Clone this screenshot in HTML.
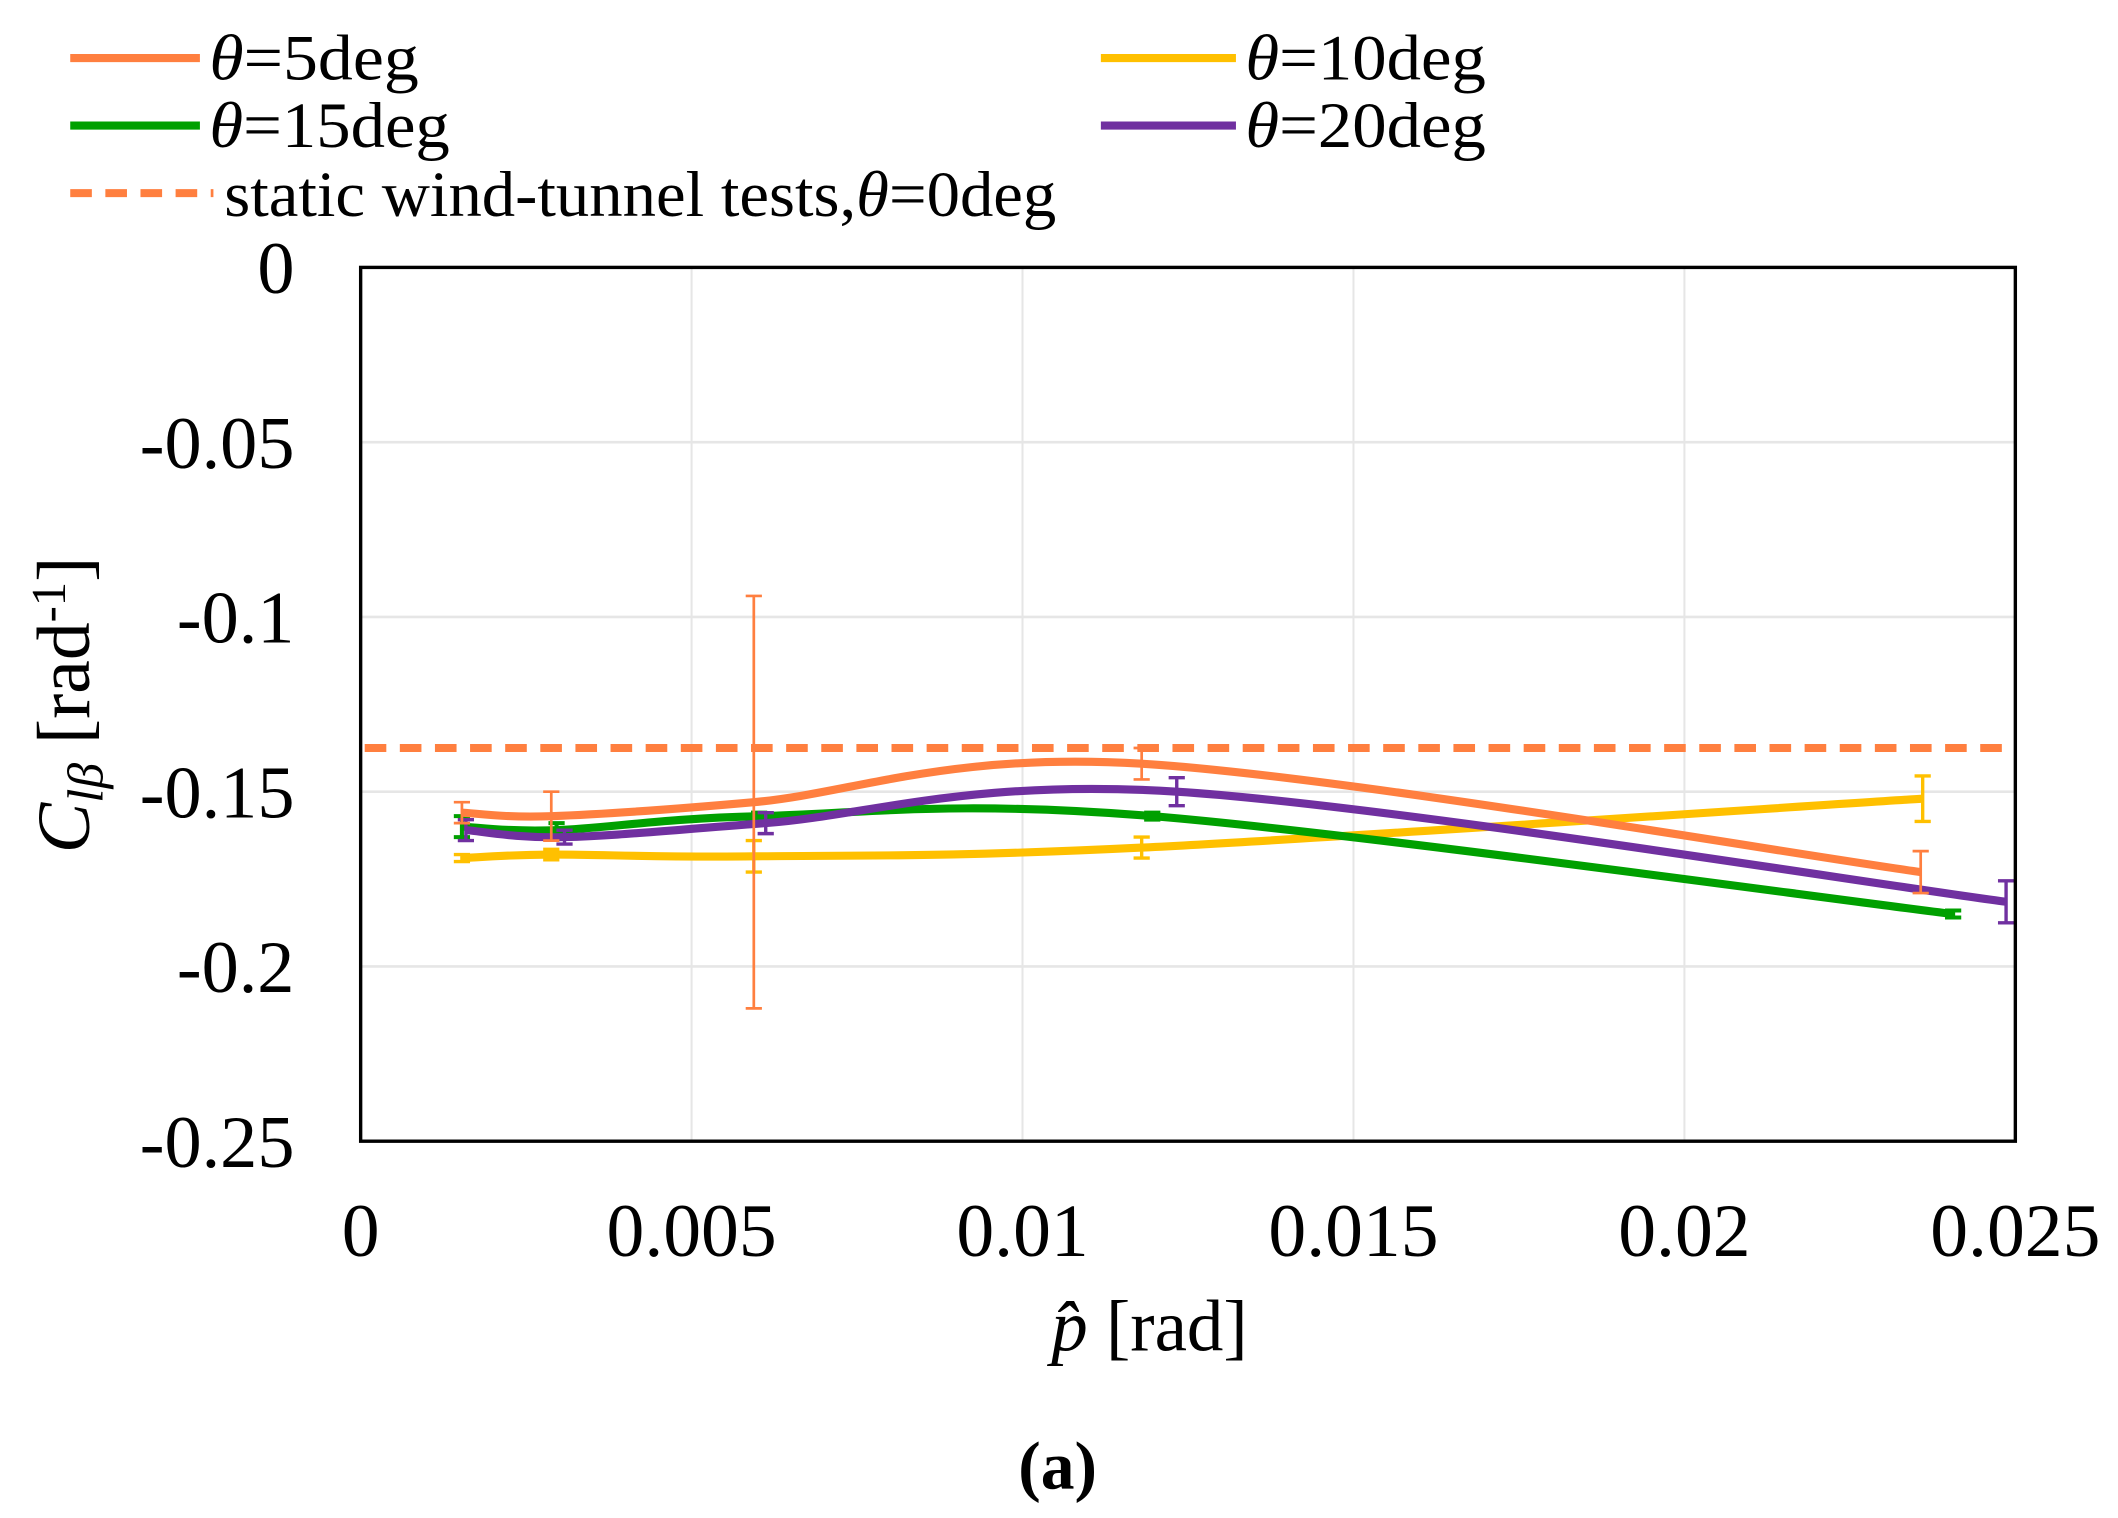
<!DOCTYPE html>
<html><head><meta charset="utf-8"><style>
html,body{margin:0;padding:0;background:#fff;}
svg{display:block;font-family:"Liberation Serif",serif;}
</style></head><body>
<svg id="chart" width="2118" height="1518" viewBox="0 0 1568 1124" preserveAspectRatio="none" xmlns="http://www.w3.org/2000/svg">
<g id="legend">
 <g><line x1="52" y1="43" x2="148" y2="43" stroke="#FF7F3F" stroke-width="6"/><text x="155" y="59" font-size="48" textLength="155" lengthAdjust="spacingAndGlyphs"><tspan font-style="italic">θ</tspan>=5deg</text></g>
 <g><line x1="815" y1="43" x2="915" y2="43" stroke="#FFC000" stroke-width="6"/><text x="922" y="59" font-size="48" textLength="178" lengthAdjust="spacingAndGlyphs"><tspan font-style="italic">θ</tspan>=10deg</text></g>
 <g><line x1="52" y1="93" x2="148" y2="93" stroke="#00A000" stroke-width="6"/><text x="155" y="109" font-size="48" textLength="178" lengthAdjust="spacingAndGlyphs"><tspan font-style="italic">θ</tspan>=15deg</text></g>
 <g><line x1="815" y1="93" x2="915" y2="93" stroke="#7030A0" stroke-width="6"/><text x="922" y="109" font-size="48" textLength="178" lengthAdjust="spacingAndGlyphs"><tspan font-style="italic">θ</tspan>=20deg</text></g>
 <g><line x1="52" y1="143" x2="158" y2="143" stroke="#FF7F3F" stroke-width="6" stroke-dasharray="16,10"/><text x="166" y="160" font-size="48" textLength="616" lengthAdjust="spacingAndGlyphs">static wind-tunnel tests,<tspan font-style="italic">θ</tspan>=0deg</text></g>
</g>
<g id="grid"></g>
<g id="series"></g>
<rect x="267" y="198" width="1225" height="647" fill="none" stroke="#000" stroke-width="2.5"/>
<g id="ticks"></g>
<text x="851" y="1000" font-size="54" text-anchor="middle"><tspan font-style="italic">p̂</tspan> [rad]</text>
<text transform="translate(66,522) rotate(-90)" font-size="56" text-anchor="middle"><tspan font-style="italic">C</tspan><tspan font-style="italic" font-size="38" dy="10">lβ</tspan><tspan dy="-10"> [rad</tspan><tspan font-size="36" dy="-18">-1</tspan><tspan dy="18">]</tspan></text>
<text x="783" y="1102" font-size="50" font-weight="bold" text-anchor="middle">(a)</text>
</svg>
<script>
const xTicks=[0,0.005,0.01,0.015,0.02,0.025];
const xTickLabels=["0","0.005","0.01","0.015","0.02","0.025"];
const yTicks=[0,-0.05,-0.1,-0.15,-0.2,-0.25];
const yTickLabels=["0","-0.05","-0.1","-0.15","-0.2","-0.25"];
const staticValue=-0.1375;
const x5=[0.00153,0.00288,0.00594,0.0118,0.02357];
const y5=[-0.156,-0.157,-0.153,-0.142,-0.173];
const e5=[0.003,0.007,0.059,0.0045,0.006];
const x10=[0.00153,0.00288,0.00594,0.0118,0.0236];
const y10=[-0.169,-0.168,-0.1685,-0.166,-0.152];
const e10=[0.001,0.0015,0.0045,0.003,0.0065];
const x15=[0.00153,0.00296,0.00602,0.01196,0.02406];
const y15=[-0.160,-0.161,-0.157,-0.157,-0.185];
const e15=[0.003,0.002,0.001,0.001,0.001];
const x20=[0.00159,0.00308,0.00612,0.01233,0.02486];
const y20=[-0.161,-0.163,-0.159,-0.150,-0.1815];
const e20=[0.003,0.002,0.003,0.004,0.006];
const NS="http://www.w3.org/2000/svg";
const X=v=>267+v/0.025*1225;
const Y=v=>198-v/0.25*647;
function mk(t,a,p){const e=document.createElementNS(NS,t);for(const k in a)e.setAttribute(k,a[k]);p.appendChild(e);return e;}
const grid=document.getElementById('grid'),ticks=document.getElementById('ticks'),series=document.getElementById('series');
xTicks.forEach((v,i)=>{
 if(i>0&&i<xTicks.length-1){const l=mk('line',{x1:X(v),x2:X(v),y1:198,y2:845,stroke:'#e6e6e6','stroke-width':1.5},grid);
 
 }
 const t=mk('text',{x:X(v),y:930,'font-size':56,'text-anchor':'middle'},ticks);t.textContent=xTickLabels[i];
 
 
});
yTicks.forEach((v,i)=>{
 if(i>0&&i<yTicks.length-1){const l=mk('line',{x1:267,x2:1492,y1:Y(v),y2:Y(v),stroke:'#e6e6e6','stroke-width':2},grid);
 
 }
 const t=mk('text',{x:218,y:Y(v)+19,'font-size':55,'text-anchor':'end'},ticks);t.textContent=yTickLabels[i];
 
 
});
const dl=mk('line',{x1:270,x2:1488,y1:Y(staticValue),y2:Y(staticValue),stroke:'#FF7F3F','stroke-width':6,'stroke-dasharray':'16,10'},series);


function spline(xs,ys){
 const p=xs.map((x,i)=>[X(x),Y(ys[i])]);let d='M'+p[0][0]+','+p[0][1];
 for(let i=0;i<p.length-1;i++){const p0=p[Math.max(0,i-1)],p1=p[i],p2=p[i+1],p3=p[Math.min(p.length-1,i+2)];
  const c1=[p1[0]+(p2[0]-p0[0])/6,p1[1]+(p2[1]-p0[1])/6],c2=[p2[0]-(p3[0]-p1[0])/6,p2[1]-(p3[1]-p1[1])/6];
  d+=' C'+c1+' '+c2+' '+p2;}
 return d;}
function draw(xs,ys,es,col,name,ew){
 const g=mk('g',{},series);
 
 
 const path=mk('path',{d:spline(xs,ys),fill:'none',stroke:col,'stroke-width':6},g);
 
 
 xs.forEach((x,i)=>{
  const cx=X(x),t=Y(ys[i]+es[i]),b=Y(ys[i]-es[i]);
  const eb=mk('path',{d:`M${cx},${t}V${b}M${cx-6},${t}H${cx+6}M${cx-6},${b}H${cx+6}`,stroke:col,'stroke-width':ew,fill:'none'},g);
  
  
 });
}
draw(x10,y10,e10,'#FFC000','series-10deg',2.5);
draw(x15,y15,e15,'#00A000','series-15deg',3);
draw(x20,y20,e20,'#7030A0','series-20deg',2.5);
draw(x5,y5,e5,'#FF7F3F','series-5deg',2);
</script>
</body></html>
